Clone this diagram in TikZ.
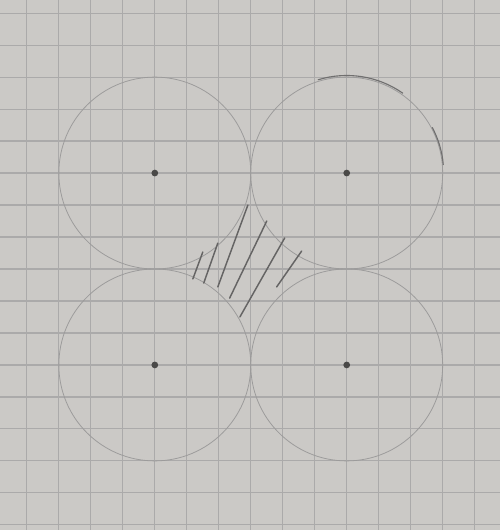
\documentclass[tikz,border=0pt]{standalone}
\usepackage{xcolor}
\usetikzlibrary{positioning}

\definecolor{paper}{HTML}{CBC9C6}
\definecolor{squares}{HTML}{ABAAAA}
\definecolor{lead}{HTML}{9C9B9B}
\definecolor{hatchlead}{HTML}{656464}
\definecolor{dotlead}{HTML}{4A4948}

\begin{document}
\begin{tikzpicture}
  [
    node distance = 6cm and 6cm,
    on grid,
    gridline/.style = {draw = squares, line width = 1pt},
    pencil/.style = {draw = lead, line width = 0.7pt},
    hatch/.style = {draw = hatchlead, line width = 1.3pt, line cap = round},
    retrace/.style = {draw = hatchlead!80!lead, line width = 1pt, line cap = round},
    centre/.style = {circle, fill = dotlead, inner sep = 0pt, minimum size = 6pt},
  ]

  % sheet of squared paper
  \fill[paper] (-4.84,5.41) rectangle (10.78,-11.16);
  \useasboundingbox (-4.84,5.41) rectangle (10.78,-11.16);
  \draw[gridline] (-4.84,-11.16) grid (10.78,5.41);

  % the four centres
  \node[centre] (tl) {};
  \node[centre] (tr) [right = of tl] {};
  \node[centre] (bl) [below = of tl] {};
  \node[centre] (br) [below = of tr] {};

  % the four circles, touching
  \foreach \c in {tl, tr, bl, br}
    \draw[pencil] (\c.center) circle (3);

  % pen marks gone over twice on the upper right circle
  \draw[retrace] ([shift={(107:3.05)}]tr.center) arc (107:55:3.05);
  \draw[retrace] ([shift={(28:3.03)}]tr.center) arc (28:5:3.03);

  % shaded gap between the circles
  \draw[hatch] (1.50,-2.47) -- (1.19,-3.31);
  \draw[hatch] (1.97,-2.19) -- (1.53,-3.44);
  \draw[hatch] (2.91,-1.00) -- (1.97,-3.56);
  \draw[hatch] (3.50,-1.50) -- (2.34,-3.91);
  \draw[hatch] (4.06,-2.03) -- (2.66,-4.50);
  \draw[hatch] (4.59,-2.44) -- (3.81,-3.56);

\end{tikzpicture}
\end{document}
